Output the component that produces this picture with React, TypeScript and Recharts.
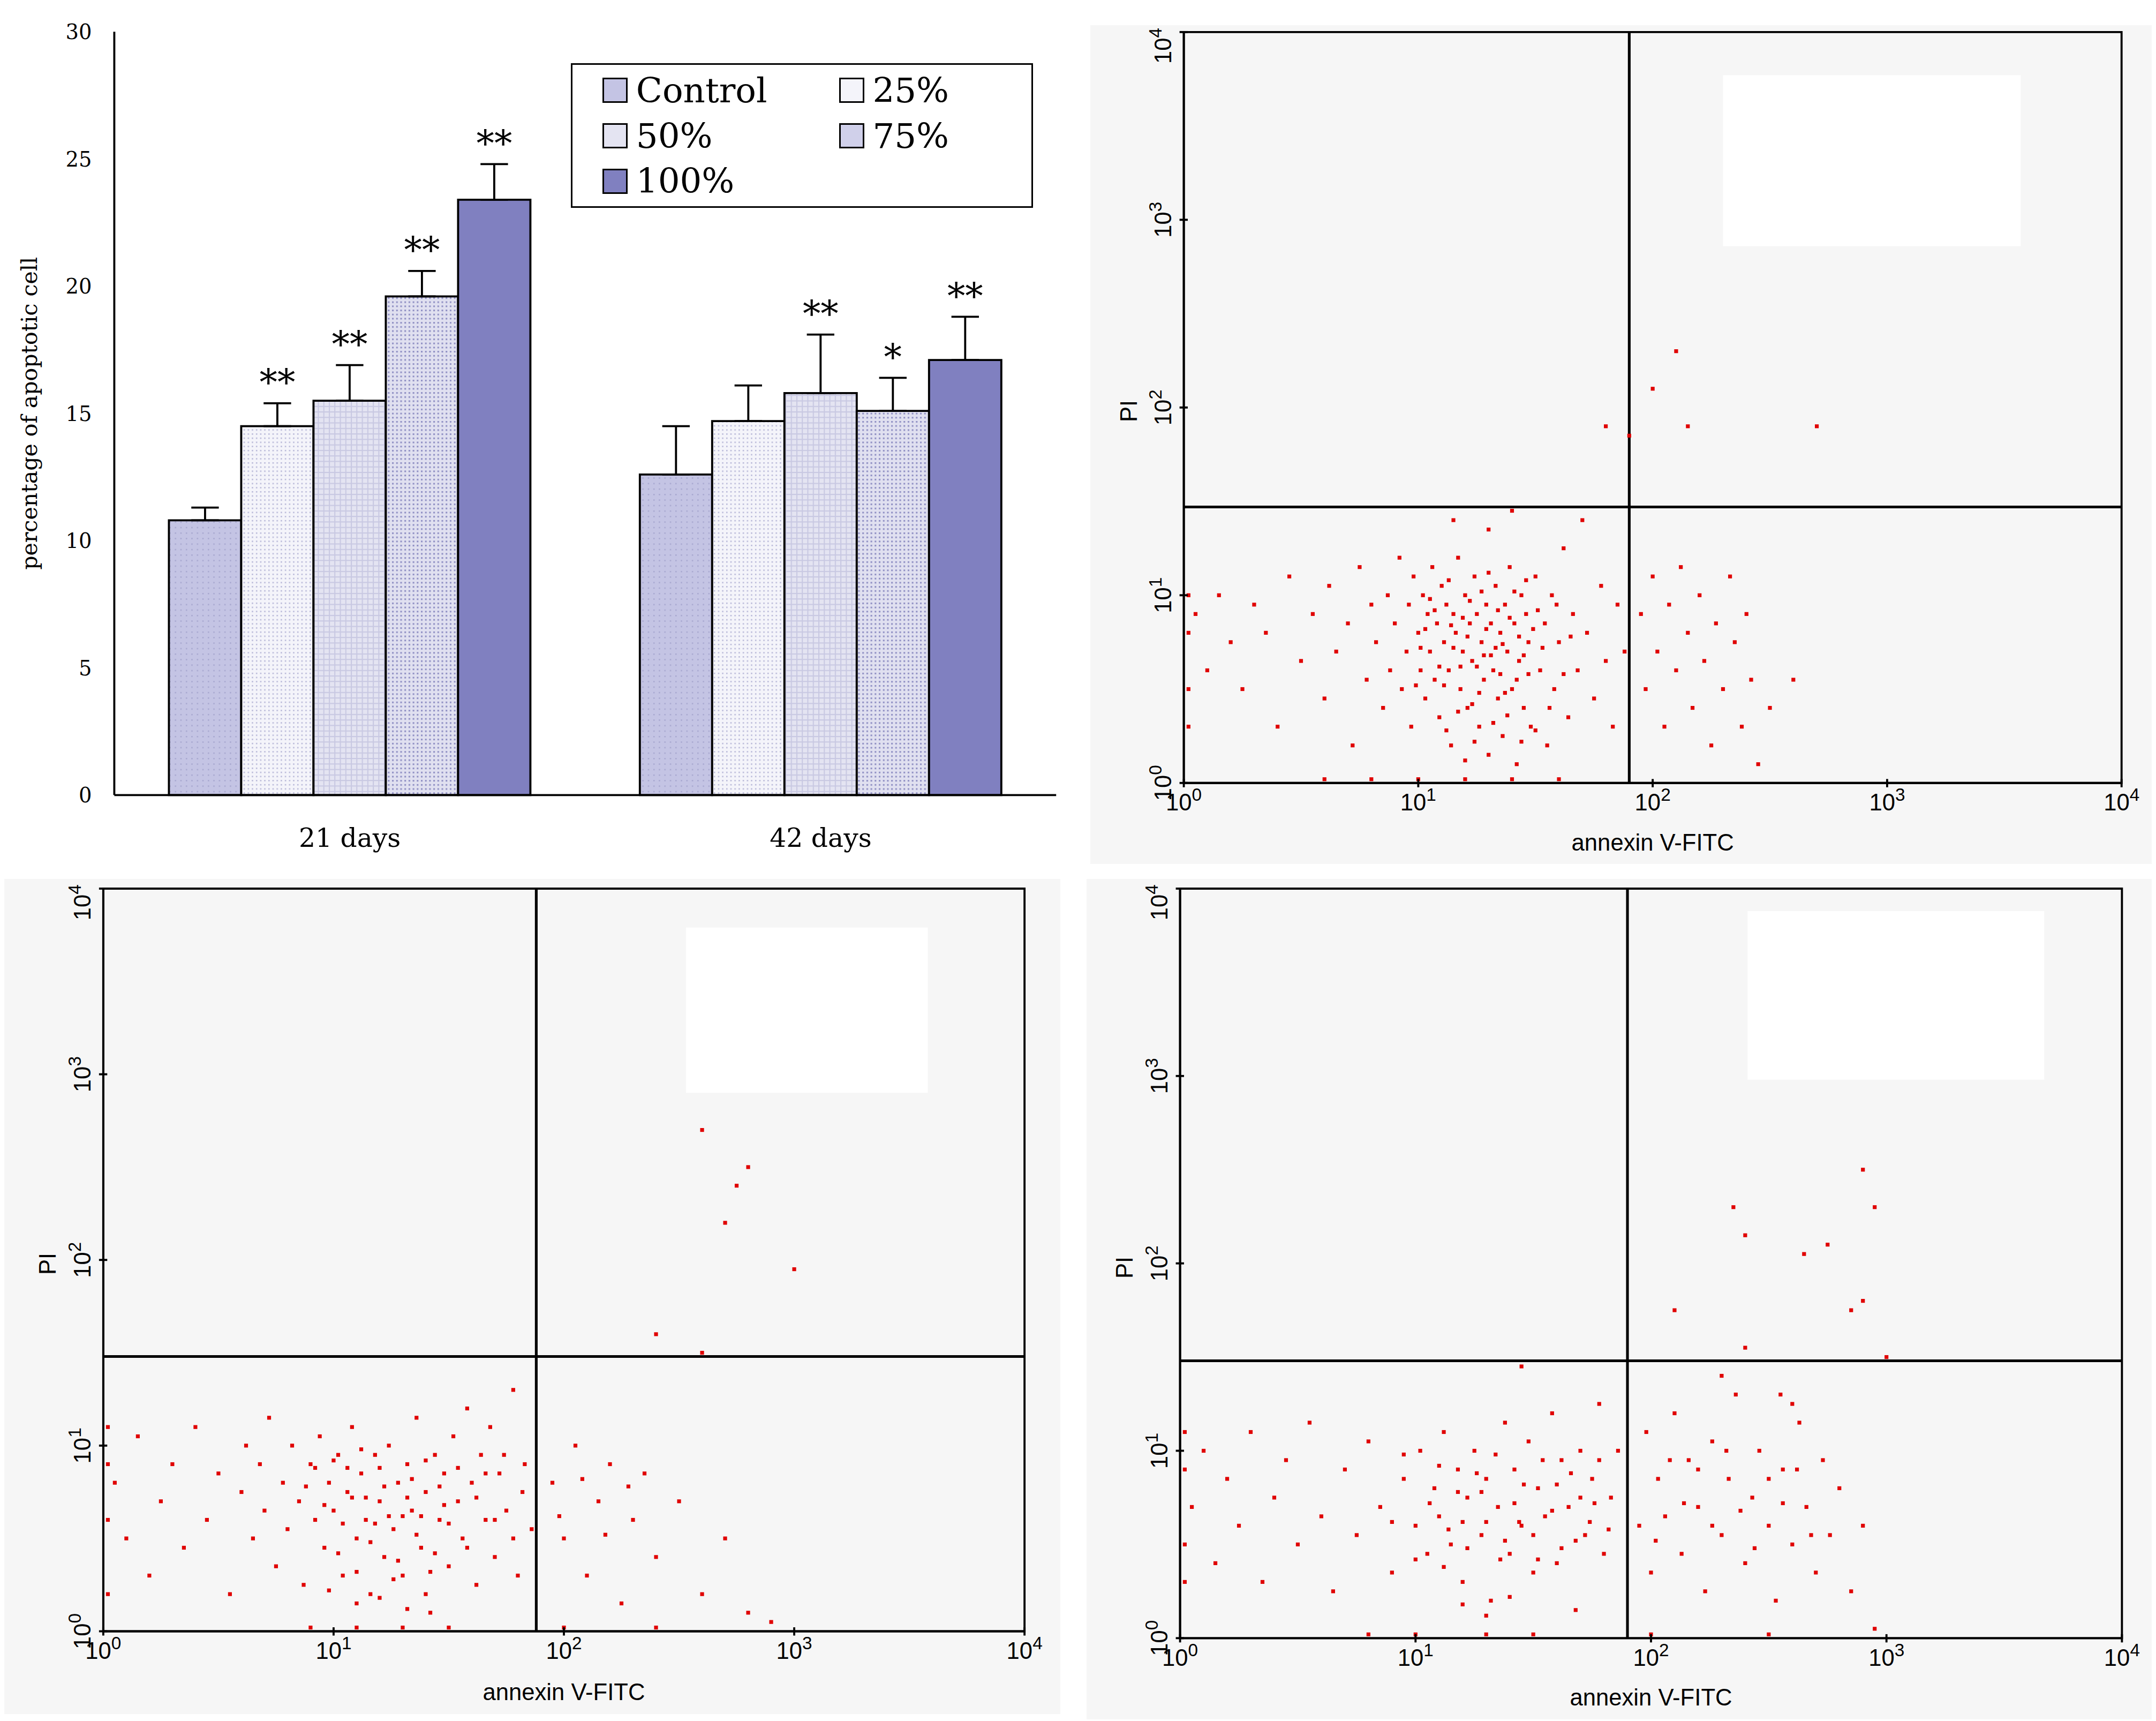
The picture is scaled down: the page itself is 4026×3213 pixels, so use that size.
import React from 'react';
import { BarChart, Bar, XAxis, YAxis, ErrorBar, LabelList, ScatterChart, Scatter, ReferenceLine, ReferenceArea } from 'recharts';

const S = 4026 / 1568;
const categories = ['21 days', '42 days'];
const controlVals = [10.8, 12.6];
const p25Vals = [14.5, 14.7];
const p50Vals = [15.5, 15.8];
const p75Vals = [19.6, 15.1];
const p100Vals = [23.4, 17.1];
const controlErr = [0.5, 1.9];
const p25Err = [0.9, 1.4];
const p50Err = [1.4, 2.3];
const p75Err = [1.0, 1.3];
const p100Err = [1.4, 1.7];
const controlStars = ['', ''];
const p25Stars = ['**', ''];
const p50Stars = ['**', '**'];
const p75Stars = ['**', '*'];
const p100Stars = ['**', '**'];
const yTicks = [0, 5, 10, 15, 20, 25, 30];
const decadeTicks = [0, 1, 2, 3, 4];

const series = [
  { key: 'c', vals: controlVals, err: controlErr, stars: controlStars, fill: 'url(#pc)', name: 'Control' },
  { key: 'p25', vals: p25Vals, err: p25Err, stars: p25Stars, fill: 'url(#p25)', name: '25%' },
  { key: 'p50', vals: p50Vals, err: p50Err, stars: p50Stars, fill: 'url(#p50)', name: '50%' },
  { key: 'p75', vals: p75Vals, err: p75Err, stars: p75Stars, fill: 'url(#p75)', name: '75%' },
  { key: 'p100', vals: p100Vals, err: p100Err, stars: p100Stars, fill: '#8080c0', name: '100%' },
];
const barData = categories.map((cat, i) => {
  const row: any = { cat };
  series.forEach(s => { row[s.key] = s.vals[i]; row[s.key + 'E'] = [0, s.err[i]]; });
  return row;
});

const trPts = "0.05,0.9 0.1,0.6 0.15,1.0 0.2,0.75 0.25,0.5 0.3,0.95 0.35,0.8 0.4,0.3 0.45,1.1 0.5,0.65 0.55,0.9 0.6,0.45 0.62,1.05 0.65,0.7 0.7,0.85 0.72,0.2 0.75,1.15 0.78,0.55 0.8,0.95 0.82,0.75 0.85,0.4 0.87,1.0 0.88,0.6 0.9,0.85 0.92,1.2 0.93,0.5 0.95,0.7 0.96,0.95 0.97,0.3 0.98,1.1 1.0,0.8 1.01,0.6 1.02,1.0 1.03,0.45 1.04,0.9 1.05,0.7 1.06,1.15 1.07,0.55 1.08,0.85 1.09,0.35 1.1,1.05 1.11,0.75 1.12,0.95 1.13,0.6 1.14,0.2 1.15,0.9 1.16,0.8 1.17,1.2 1.18,0.5 1.19,0.7 1.2,1.0 1.21,0.4 1.22,0.85 1.23,0.65 1.24,1.1 1.25,0.9 1.26,0.3 1.27,0.75 1.28,0.55 1.29,0.95 1.3,0.15 1.31,0.85 1.32,0.6 1.33,1.05 1.34,0.45 1.35,0.8 1.36,0.25 1.37,0.95 1.38,0.7 1.39,1.15 1.4,0.5 1.41,0.85 1.42,0.1 1.43,0.65 1.44,1.0 1.45,0.4 1.46,0.9 1.47,0.75 1.48,0.3 1.5,1.1 1.52,0.6 1.54,0.85 1.55,0.2 1.57,1.0 1.58,0.5 1.6,0.75 1.62,1.25 1.64,0.35 1.66,0.9 1.68,0.6 1.7,1.4 1.72,0.8 1.75,0.45 1.78,1.05 1.8,0.65 1.83,0.3 1.85,0.95 1.88,0.7 1.95,0.9 1.97,0.5 2.0,1.1 2.02,0.7 2.05,0.3 2.07,0.95 2.1,0.6 2.12,1.15 2.15,0.8 2.17,0.4 2.2,1.0 2.22,0.65 2.25,0.2 2.27,0.85 2.3,0.5 2.33,1.1 2.35,0.75 2.38,0.3 2.4,0.9 2.42,0.55 2.45,0.1 2.5,0.4 2.6,0.55 1.2,0.02 1.0,0.02 0.8,0.02 1.4,0.02 1.6,0.02 0.6,0.02 0.02,0.5 0.02,0.8 0.02,0.3 0.02,1.0 1.9,1.85 2.0,2.1 2.15,1.9 2.1,2.3 2.7,1.9 1.8,1.9 1.15,1.4 1.3,1.35 1.4,1.45 1.03,0.82 1.07,0.92 1.11,0.52 1.15,0.72 1.19,0.88 1.23,0.42 1.27,1.02 1.31,0.68 1.35,0.58 1.39,0.88 1.43,0.78 1.47,0.58 1.51,0.92 1.09,0.62 1.13,1.08 1.17,0.38 1.21,0.78 1.25,0.62 1.29,0.82 1.33,0.72 1.37,0.48 1.41,1.02 1.45,0.68 1.49,0.82 1.05,0.98 1.01,0.72 0.99,0.52 1.53,0.72 1.56,0.4 1.59,0.95 1.62,0.58 1.65,0.78 1.18,0.62 1.22,0.97 1.26,0.48 1.3,1.12 1.34,0.92 1.38,0.36 1.42,0.55 1.46,1.08 1.14,0.84 1.28,0.68 1.36,0.74 1.12,0.28 1.24,0.22 1.32,0.32 1.44,0.22 1.2,0.12 1.5,0.28";
const blPts = "0.05,0.8 0.1,0.5 0.15,1.05 0.2,0.3 0.25,0.7 0.3,0.9 0.35,0.45 0.4,1.1 0.45,0.6 0.5,0.85 0.55,0.2 0.6,0.75 0.62,1.0 0.65,0.5 0.68,0.9 0.7,0.65 0.72,1.15 0.75,0.35 0.78,0.8 0.8,0.55 0.82,1.0 0.85,0.7 0.87,0.25 0.9,0.9 0.92,0.6 0.94,1.05 0.96,0.45 0.98,0.8 1.0,0.65 1.02,0.95 1.04,0.3 1.06,0.75 1.08,1.1 1.1,0.5 1.12,0.85 1.14,0.6 1.16,0.2 1.18,0.95 1.2,0.7 1.22,0.4 1.24,1.0 1.26,0.55 1.28,0.8 1.3,0.3 1.32,0.9 1.34,0.65 1.36,1.15 1.38,0.45 1.4,0.75 1.42,0.1 1.44,0.95 1.46,0.6 1.48,0.85 1.5,0.35 1.52,1.05 1.54,0.7 1.56,0.5 1.58,1.2 1.6,0.8 1.62,0.25 1.64,0.95 1.66,0.6 1.68,1.1 1.7,0.4 1.72,0.85 1.75,0.65 1.78,1.3 1.8,0.3 1.83,0.9 1.86,0.55 1.95,0.8 2.0,0.5 2.05,1.0 2.1,0.3 2.15,0.7 2.2,0.9 2.25,0.15 2.3,0.6 2.35,0.85 2.4,0.4 2.5,0.7 2.6,0.2 2.7,0.5 2.8,0.1 2.9,0.05 1.1,0.02 1.3,0.02 0.9,0.02 1.5,0.02 2.0,0.02 2.4,0.02 0.02,0.6 0.02,0.9 0.02,0.2 0.02,1.1 2.6,2.7 2.75,2.4 2.8,2.5 2.7,2.2 3.0,1.95 2.6,1.5 2.4,1.6 0.88,0.78 0.92,0.88 0.96,0.68 1.0,0.92 1.04,0.58 1.08,0.72 1.12,0.98 1.16,0.48 1.2,0.88 1.24,0.62 1.28,0.38 1.32,0.72 1.36,0.52 1.4,0.92 1.44,0.42 1.48,0.68 1.02,0.42 1.06,0.88 1.1,0.32 1.14,0.72 1.18,0.58 1.22,0.78 1.26,0.28 1.3,0.62 1.34,0.82 1.38,0.62 1.42,0.32 1.46,0.78 1.5,0.58 1.54,0.88 1.58,0.45 1.62,0.72 1.66,0.85 1.7,0.6 1.74,0.95 1.78,0.5 1.82,0.75 1.2,0.18 1.32,0.12 1.1,0.15 0.98,0.22 1.4,0.2 2.08,0.82 2.18,0.52 2.28,0.78 1.98,0.62";
const brPts = "0.05,0.7 0.1,1.0 0.15,0.4 0.2,0.85 0.25,0.6 0.3,1.1 0.35,0.3 0.4,0.75 0.45,0.95 0.5,0.5 0.55,1.15 0.6,0.65 0.65,0.25 0.7,0.9 0.75,0.55 0.8,1.05 0.85,0.7 0.9,0.35 0.95,0.85 1.0,0.6 1.02,1.0 1.05,0.45 1.08,0.8 1.1,0.65 1.12,1.1 1.15,0.5 1.18,0.9 1.2,0.3 1.22,0.75 1.25,1.0 1.28,0.55 1.3,0.85 1.32,0.2 1.35,0.7 1.38,1.15 1.4,0.45 1.42,0.9 1.45,0.6 1.48,1.05 1.5,0.35 1.52,0.8 1.55,0.65 1.58,1.2 1.6,0.4 1.62,0.95 1.65,0.7 1.68,0.15 1.7,1.0 1.72,0.55 1.75,0.85 1.78,1.25 1.8,0.45 1.83,0.75 1.86,1.0 1.95,0.6 1.98,1.1 2.0,0.35 2.03,0.85 2.06,0.65 2.1,1.2 2.13,0.45 2.16,0.95 2.2,0.7 2.23,0.25 2.26,1.05 2.3,0.55 2.33,0.85 2.36,1.3 2.4,0.4 2.43,0.75 2.46,1.0 2.5,0.6 2.53,0.2 2.56,0.9 2.6,0.5 2.63,1.15 2.66,0.7 2.7,0.35 2.73,0.95 2.76,0.55 2.8,0.8 2.85,0.25 2.9,0.6 2.95,0.05 1.0,0.02 1.3,0.02 1.5,0.02 2.0,0.02 2.5,0.02 0.8,0.02 0.02,0.5 0.02,0.9 0.02,0.3 0.02,1.1 2.35,2.3 2.4,2.15 2.95,2.3 2.9,2.5 2.75,2.1 2.65,2.05 2.85,1.75 2.9,1.8 2.1,1.75 2.4,1.55 3.0,1.5 2.3,1.4 1.45,1.45 2.55,1.3 2.6,1.25 1.06,0.72 1.1,0.92 1.14,0.58 1.18,0.78 1.22,0.48 1.26,0.88 1.3,0.62 1.34,0.98 1.38,0.52 1.42,0.72 1.46,0.82 1.5,0.55 1.54,0.95 1.58,0.68 1.62,0.48 1.66,0.88 1.7,0.75 1.74,0.62 1.78,0.95 1.82,0.58 1.12,0.38 1.2,0.62 1.28,0.78 1.36,0.42 1.44,0.62 1.52,0.42 1.6,0.82 1.68,0.52 1.76,0.72 2.02,0.52 2.08,0.95 2.14,0.72 2.2,0.9 2.26,0.6 2.32,1.0 2.38,0.68 2.44,0.48 2.5,0.85 2.56,0.72 2.62,0.9 2.68,0.55 0.9,0.62 0.95,0.98 1.0,0.42 1.3,0.12 1.4,0.22 1.2,0.18";
const parsePts = (s: string) => s.split(' ').map(p => { const [x, y] = p.split(',').map(Number); return { x, y }; });

const serif = '"DejaVu Serif", "Liberation Serif", serif';
const sans = '"Liberation Sans", Arial, sans-serif';

const XDecTick = (props: any) => {
  const { x, y, payload } = props;
  return (
    <g>
      <line x1={x} y1={y - 6 * S} x2={x} y2={y} stroke="#000" strokeWidth={1.5 * S} />
      <text x={x} y={y + 17 * S} textAnchor="middle" fontFamily={sans} fontSize={17 * S} fill="#000">
        10<tspan dy={-7 * S} fontSize={13 * S}>{payload.value}</tspan>
      </text>
    </g>
  );
};
const YDecTick = (props: any) => {
  const { x, y, payload } = props;
  const yy = payload.value === 4 ? y + 10 * S : y;
  return (
    <g>
      <line x1={x} y1={y} x2={x + 6 * S} y2={y} stroke="#000" strokeWidth={1.5 * S} />
      <text transform={`translate(${x - 6 * S},${yy}) rotate(-90)`} textAnchor="middle" fontFamily={sans} fontSize={17 * S} fill="#000">
        10<tspan dy={-7 * S} fontSize={13 * S}>{payload.value}</tspan>
      </text>
    </g>
  );
};

function Flow({ left, top, w, h, pl, pr, pt, xh, pts, qx, qy, box }: any) {
  const data = parsePts(pts);
  return (
    <div style={{ position: 'absolute', left: left * S, top: top * S, width: w * S, height: h * S, background: '#f6f6f6' }}>
      <ScatterChart width={w * S} height={h * S} margin={{ left: 0, right: pr * S, top: pt * S, bottom: 0 }}>
        <XAxis type="number" dataKey="x" domain={[0, 4]} ticks={decadeTicks} height={xh * S} tick={<XDecTick />} tickLine={false} axisLine={{ stroke: '#000', strokeWidth: 1.5 * S }}
          label={{ value: 'annexin V-FITC', position: 'insideBottom', offset: 10 * S, fontFamily: sans, fontSize: 17 * S, fill: '#000' }} />
        <YAxis type="number" dataKey="y" domain={[0, 4]} ticks={decadeTicks} width={pl * S} tick={<YDecTick />} tickLine={false} axisLine={{ stroke: '#000', strokeWidth: 1.5 * S }} />
        <ReferenceArea x1={0} x2={4} y1={0} y2={4} fill="none" stroke="#000" strokeWidth={1.5 * S} />
        <ReferenceArea x1={box[0]} x2={box[1]} y1={box[2]} y2={box[3]} fill="#fff" fillOpacity={1} stroke="none" />
        <ReferenceLine x={qx} stroke="#000" strokeWidth={2 * S} />
        <ReferenceLine y={qy} stroke="#000" strokeWidth={2 * S} />
        <Scatter data={data} fill="#e00000" isAnimationActive={false} shape={(p: any) => <rect x={p.cx - 1.4 * S} y={p.cy - 1.4 * S} width={2.8 * S} height={2.8 * S} fill="#e00000" />} />
      </ScatterChart>
      <div style={{ position: 'absolute', left: (pl - 50) * S, top: (pt + (h - pt - xh) * 0.52) * S, transform: 'rotate(-90deg)', fontFamily: sans, fontSize: 17 * S, transformOrigin: 'left top' }}>PI</div>
    </div>
  );
}

const StarLabel = (stars: string[], errs: number[], vals: number[]) => (props: any) => {
  const { x, y, width, height, index } = props;
  const t = stars[index];
  if (!t) return null;
  const pxPer = height / vals[index];
  const yt = y - errs[index] * pxPer;
  return <text x={x + width / 2} y={yt - 6 * S} textAnchor="middle" fontFamily={serif} fontSize={26 * S} fill="#000">{t}</text>;
};

export default function App() {
  return (
    <div style={{ position: 'relative', width: 1568 * S, height: 1251 * S, background: '#fff' }}>
      <div style={{ position: 'absolute', left: 0, top: 0 }}>
        <BarChart width={775 * S} height={630 * S} data={barData} margin={{ left: 0, right: 10 * S, top: 20 * S, bottom: 0 }} barCategoryGap="11.6%" barGap={0}>
          <defs>
            <pattern id="pc" width={4 * S} height={4 * S} patternUnits="userSpaceOnUse"><rect width={4 * S} height={4 * S} fill="#c4c4e4" /><rect width={1 * S} height={1 * S} fill="#a8a8d0" /></pattern>
            <pattern id="p25" width={3 * S} height={3 * S} patternUnits="userSpaceOnUse"><rect width={3 * S} height={3 * S} fill="#f4f4fa" /><rect width={1 * S} height={1 * S} fill="#b8b8d8" /></pattern>
            <pattern id="p50" width={4 * S} height={4 * S} patternUnits="userSpaceOnUse"><rect width={4 * S} height={4 * S} fill="#e4e4f2" /><rect width={4 * S} height={0.8 * S} fill="#c8c8e2" /><rect width={0.8 * S} height={4 * S} fill="#c8c8e2" /></pattern>
            <pattern id="p75" width={3 * S} height={3 * S} patternUnits="userSpaceOnUse"><rect width={3 * S} height={3 * S} fill="#e0e0f0" /><rect width={1.2 * S} height={1.2 * S} fill="#9090c4" /></pattern>
          </defs>
          <XAxis dataKey="cat" height={55 * S} tickLine={false} axisLine={{ stroke: '#000', strokeWidth: 1.5 * S }} tick={{ fontFamily: serif, fontSize: 19 * S, fill: '#000' }} tickMargin={22 * S} />
          <YAxis domain={[0, 30]} ticks={yTicks} width={80 * S} tickLine={false} axisLine={{ stroke: '#000', strokeWidth: 1.5 * S }} tick={{ fontFamily: serif, fontSize: 15 * S, fill: '#000' }} tickMargin={14 * S}
            label={{ value: 'percentage of apoptotic cell', angle: -90, position: 'insideLeft', offset: 18 * S, fontFamily: serif, fontSize: 16 * S, fill: '#000', style: { textAnchor: 'middle' } }} />
          {series.map(s => (
            <Bar key={s.key} dataKey={s.key} fill={s.fill} stroke="#000" strokeWidth={1.5 * S} isAnimationActive={false}>
              <ErrorBar dataKey={s.key + 'E'} width={10 * S} stroke="#000" strokeWidth={1.5 * S} />
              <LabelList dataKey={s.key} content={StarLabel(s.stars, s.err, s.vals)} />
            </Bar>
          ))}
        </BarChart>
        <div style={{ position: 'absolute', left: 412 * S, top: 43 * S, width: 336 * S, height: 105 * S, border: `${1.5 * S}px solid #000`, background: '#fff', boxSizing: 'border-box', fontFamily: serif, fontSize: 25 * S }}>
          {series.map((s, i) => {
            const col = i === 4 ? 0 : i % 2; const row = i === 4 ? 2 : Math.floor(i / 2);
            const bg = ['#c4c4e4', '#f4f4fa', '#e4e4f2', '#d0d0ea', '#8080c0'][i];
            return (
              <div key={s.key} style={{ position: 'absolute', left: (22 + col * 172) * S, top: (6 + row * 33) * S, display: 'flex', alignItems: 'center', lineHeight: 1 }}>
                <div style={{ width: 16 * S, height: 16 * S, background: bg, border: `${1.5 * S}px solid #000`, marginRight: 6 * S }} />
                <span>{s.name}</span>
              </div>
            );
          })}
        </div>
      </div>
      <Flow left={790} top={15} w={778} h={610} pl={68} pr={28} pt={5} xh={59} pts={trPts} qx={1.9} qy={1.47} box={[2.3, 3.57, 2.86, 3.77]} />
      <Flow left={0} top={636} w={768} h={607} pl={72} pr={26} pt={7} xh={60} pts={blPts} qx={1.88} qy={1.48} box={[2.53, 3.58, 2.9, 3.79]} />
      <Flow left={787} top={636} w={781} h={611} pl={68} pr={28} pt={7} xh={59} pts={brPts} qx={1.9} qy={1.48} box={[2.41, 3.67, 2.98, 3.88]} />
    </div>
  );
}
